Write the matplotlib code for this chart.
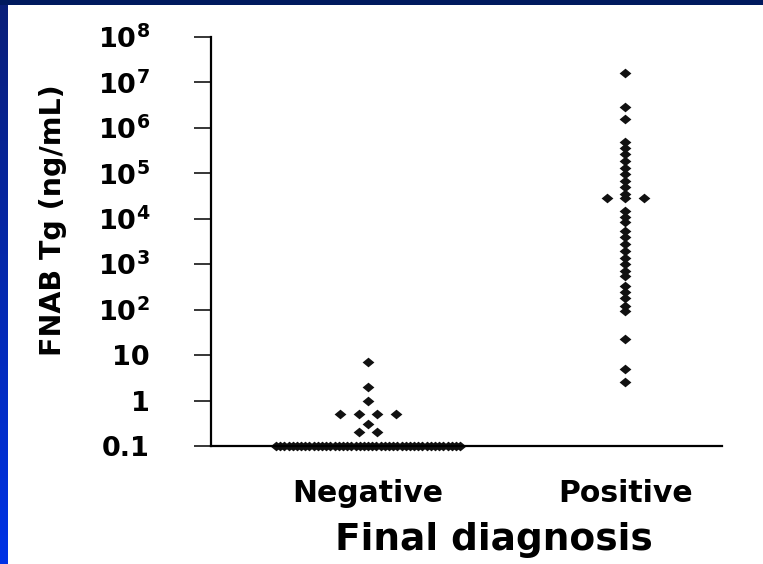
import numpy as np
import matplotlib
matplotlib.use('Agg')
import matplotlib.pyplot as plt
from matplotlib.path import Path
from matplotlib.colors import LinearSegmentedColormap

# ---------------- data ----------------
categories = ['Negative', 'Positive']
negative_values = [0.1] * 45 + [0.2, 0.2, 0.3, 0.5, 0.5, 0.5, 0.5, 1, 2, 7]
positive_values = [1.6e7, 2.9e6, 1.6e6, 5.0e5, 3.6e5, 2.6e5, 1.9e5, 1.3e5,
                   9.5e4, 6.8e4, 4.9e4, 3.5e4, 2.9e4, 2.9e4, 2.9e4, 1.5e4,
                   1.1e4, 8.4e3, 5.5e3, 3.9e3, 2.8e3, 2.0e3, 1.4e3, 1.0e3,
                   7.2e2, 5.6e2, 3.4e2, 2.4e2, 1.8e2, 1.2e2, 93, 23, 5.0, 2.6]
ytick_values = [0.1, 1, 10, 1e2, 1e3, 1e4, 1e5, 1e6, 1e7, 1e8]
ytick_labels = ['0.1', '1', '10'] + [r'$\mathbf{10^{%d}}$' % e for e in range(2, 9)]
ylabel_text = 'FNAB Tg (ng/mL)'
xlabel_text = 'Final diagnosis'

plt.rcParams['mathtext.fontset'] = 'dejavusans'

W, H = 763, 564
fig = plt.figure(figsize=(W / 100, H / 100), dpi=100)
fig.patch.set_facecolor('white')

# background frame: navy top bar, blue gradient left bar
bar_ax = fig.add_axes([0, 0, 8 / W, 1])
grad = np.linspace(0, 1, 256).reshape(-1, 1)
cmap = LinearSegmentedColormap.from_list('bl', ['#0a1f78', '#0033e6'])
bar_ax.imshow(grad, aspect='auto', cmap=cmap, extent=[0, 1, 0, 1], origin='upper')
bar_ax.set_axis_off()
top_ax = fig.add_axes([0, 1 - 5 / H, 1, 5 / H])
top_ax.set_facecolor('#001a5e')
top_ax.set_xticks([]); top_ax.set_yticks([])
for s in top_ax.spines.values():
    s.set_visible(False)

# main axes
left, right, bottom, top = 211, 722, 446, 37
ax = fig.add_axes([left / W, (H - bottom) / H, (right - left) / W, (bottom - top) / H])
ax.set_facecolor('none')


def row_offsets(values, step=0.072, max_half=0.358):
    values = np.asarray(values, dtype=float)
    offs = np.zeros(len(values))
    for v in np.unique(values):
        idx = np.where(values == v)[0]
        n = len(idx)
        if n > 1:
            s = min(step, 2 * max_half / (n - 1))
            offs[idx] = (np.arange(n) - (n - 1) / 2) * s
    return offs


diamond = Path([(-1, 0), (0, 0.82), (1, 0), (0, -0.82), (-1, 0)],
               [Path.MOVETO, Path.LINETO, Path.LINETO, Path.LINETO, Path.CLOSEPOLY])

for i, vals in enumerate([negative_values, positive_values]):
    x = i + row_offsets(vals)
    ax.plot(x, vals, linestyle='none', marker=diamond, markersize=8.5,
            color='#111111', markeredgewidth=0, clip_on=False)

ax.set_yscale('log')
ax.set_ylim(0.1, 1e8)
ax.set_xlim(-0.611, 1.377)
ax.set_yticks(ytick_values)
ax.set_yticklabels(ytick_labels)
ax.yaxis.set_minor_locator(matplotlib.ticker.NullLocator())
ax.set_xticks([0, 1])
ax.set_xticklabels(categories)
for s in ['top', 'right']:
    ax.spines[s].set_visible(False)
for s in ['left', 'bottom']:
    ax.spines[s].set_linewidth(1.6)
ax.tick_params(axis='y', length=12, width=1.1, direction='out', pad=32,
               labelsize=19.5, color='black')
ax.tick_params(axis='x', length=0, pad=24, labelsize=21.5)
for lab in ax.get_xticklabels() + ax.get_yticklabels():
    lab.set_fontweight('bold')

ax.set_xlabel(xlabel_text, fontsize=27, fontweight='bold', labelpad=9)
ax.xaxis.set_label_coords((494 - left) / (right - left), -0.185)
ax.set_ylabel(ylabel_text, fontsize=20.5, fontweight='bold')
ax.yaxis.set_label_coords((67 - left) / (right - left), (bottom - 220) / (bottom - top))

fig.savefig('out.png', dpi=100)
